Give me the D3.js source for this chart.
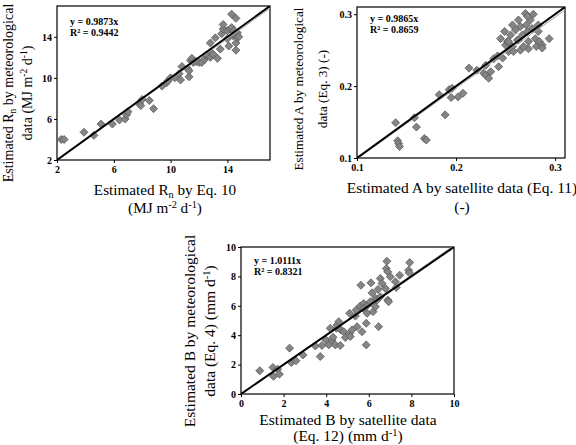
<!DOCTYPE html>
<html>
<head>
<meta charset="utf-8">
<script src="https://cdn.jsdelivr.net/npm/d3@7"></script>
<style>
  html, body { margin: 0; padding: 0; background: #fff; }
  svg { display: block; }
  text { font-family: "Liberation Serif", "Times New Roman", serif; }
</style>
</head>
<body>
<svg id="chart" width="576" height="445"></svg>
<script>
// ---------- Data ----------
// Panel 1: Rn (MJ m-2 d-1): [Eq.10, meteorological]
const rnPoints = [
  [2.3,4.0],[2.5,4.0],[3.9,4.7],[4.6,4.4],[5.1,5.5],[5.9,5.5],[6.4,5.9],[6.8,6.0],[6.9,6.4],[7.0,6.7],
  [7.8,7.5],[7.9,7.3],[8.0,7.9],[8.5,7.8],[8.8,7.0],[9.4,9.2],[9.7,9.5],[9.8,9.7],[10.0,10.0],[10.3,10.0],
  [10.6,10.4],[10.7,9.8],[10.8,11.1],[11.2,10.9],[11.3,10.1],[11.3,10.7],[11.4,11.7],[11.5,11.9],[11.6,11.5],[11.8,11.6],
  [12.0,11.5],[12.2,11.5],[12.4,11.8],[12.5,12.2],[12.6,12.2],[12.8,12.0],[12.9,12.4],[13.0,12.3],[13.3,11.9],[12.8,13.4],
  [13.15,13.9],[13.5,12.8],[13.6,14.3],[13.7,14.75],[13.7,15.2],[14.0,14.6],[14.0,13.8],[14.1,13.1],[14.2,14.75],[14.3,14.9],
  [14.3,16.2],[14.6,15.8],[14.4,14.1],[14.45,14.6],[14.5,14.2],[14.6,13.4],[14.6,12.7],[14.7,13.9],[14.7,14.4],[14.8,14.0]
];
// Panel 2: A (-): [satellite Eq.11, meteorological Eq.3]
const aPoints = [
  [0.139,0.149],[0.141,0.124],[0.142,0.120],[0.143,0.116],[0.158,0.156],[0.160,0.143],[0.168,0.127],[0.170,0.125],
  [0.183,0.188],[0.189,0.160],[0.193,0.195],[0.196,0.197],[0.195,0.184],[0.202,0.185],[0.207,0.190],[0.213,0.225],
  [0.221,0.222],[0.228,0.218],[0.230,0.215],[0.233,0.211],[0.235,0.220],[0.230,0.229],[0.238,0.238],[0.242,0.242],
  [0.243,0.227],[0.247,0.239],[0.245,0.266],[0.250,0.257],[0.249,0.276],[0.252,0.262],[0.253,0.248],[0.255,0.271],
  [0.257,0.255],[0.258,0.248],[0.260,0.278],[0.262,0.264],[0.263,0.292],[0.265,0.283],[0.267,0.271],[0.265,0.250],
  [0.270,0.301],[0.271,0.285],[0.272,0.276],[0.273,0.262],[0.273,0.252],[0.275,0.292],[0.277,0.280],[0.278,0.300],
  [0.280,0.266],[0.281,0.255],[0.283,0.276],[0.284,0.262],[0.287,0.257],[0.287,0.253],[0.294,0.266],[0.268,0.255],
  [0.263,0.264],[0.257,0.285],[0.253,0.262],[0.283,0.285],[0.272,0.297]
];
// Panel 3: B (mm d-1): [satellite Eq.12, meteorological Eq.4]
const bPoints = [
  [0.88,1.58],[1.50,1.81],[1.53,1.20],[1.72,1.69],[1.80,1.35],[2.28,3.12],[2.36,2.14],[2.58,2.26],[2.91,2.66],[3.49,3.27],
  [3.72,2.55],[3.80,3.30],[3.99,3.68],[4.12,3.34],[4.19,4.47],[4.27,3.68],[4.32,3.86],[4.43,3.34],[4.48,4.47],[4.51,4.70],
  [4.59,4.92],[4.66,3.30],[4.69,4.36],[4.82,4.24],[4.90,3.84],[5.10,4.13],[5.13,3.91],[5.10,5.49],[5.21,4.36],[5.37,5.30],
  [5.41,5.71],[5.45,4.58],[5.63,7.40],[5.68,4.24],[5.60,5.98],[5.76,6.16],[5.76,5.82],[5.88,4.81],[5.88,3.34],[5.92,5.49],
  [5.95,6.05],[6.07,6.28],[6.10,7.56],[6.15,6.88],[6.20,5.60],[6.31,5.94],[6.32,6.50],[6.38,6.39],[6.43,7.11],[6.46,4.58],
  [6.54,7.86],[6.62,7.52],[6.54,6.61],[6.78,7.18],[6.85,9.03],[6.82,8.53],[6.89,8.31],[6.89,6.39],[6.93,6.28],[7.01,7.97],
  [7.25,7.63],[7.29,7.25],[7.45,8.08],[7.92,8.94],[7.87,8.42],[7.90,8.24]
];

const rnTicks = [2, 6, 10, 14];
const aTicks = [0.1, 0.2, 0.3];
const bTicks = [0, 2, 4, 6, 8, 10];

const rnDomain = [2, 17];
const aDomain = [0.1, 0.31];
const bDomain = [0, 10];

const rnFit = {slope: 0.9873, label: "y = 0.9873x", r2: "R² = 0.9442"};
const aFit = {slope: 0.9865, label: "y = 0.9865x", r2: "R² = 0.8659"};
const bFit = {slope: 1.0111, label: "y = 1.0111x", r2: "R² = 0.8321"};

// ---------- Drawing ----------
const svg = d3.select("#chart");

function richText(sel, parts, size) {
  let shift = 0;
  parts.forEach(p => {
    const t = sel.append("tspan").text(p.t);
    let target = 0;
    if (p.sub) { target = 3; t.attr("font-size", size * 0.68); }
    if (p.sup) { target = -5; t.attr("font-size", size * 0.68); }
    if (target !== shift) t.attr("dy", target - shift);
    shift = target;
  });
}

function panel(cfg) {
  const g = svg.append("g");
  const x = d3.scaleLinear().domain(cfg.domain).range([cfg.x0, cfg.x1]);
  const y = d3.scaleLinear().domain(cfg.domain).range([cfg.y1, cfg.y0]);

  const fmt = cfg.fmt;
  g.append("g").attr("transform", `translate(0,${cfg.y1})`)
    .call(d3.axisBottom(x).tickValues(cfg.ticks).tickSize(3).tickPadding(3).tickFormat(fmt))
    .call(a => a.select(".domain").remove())
    .call(a => a.selectAll("text").attr("font-family", "Liberation Serif").attr("font-weight", "bold").attr("font-size", 10).attr("fill", "#000"));
  g.append("g").attr("transform", `translate(${cfg.x0},0)`)
    .call(d3.axisLeft(y).tickValues(cfg.ticks).tickSize(3).tickPadding(2).tickFormat(fmt))
    .call(a => a.select(".domain").remove())
    .call(a => a.selectAll("text").attr("font-family", "Liberation Serif").attr("font-weight", "bold").attr("font-size", 10).attr("fill", "#000"));

  // frame
  g.append("rect").attr("x", cfg.x0).attr("y", cfg.y0)
    .attr("width", cfg.x1 - cfg.x0).attr("height", cfg.y1 - cfg.y0)
    .attr("fill", "none").attr("stroke", "#000").attr("stroke-width", 1.2);

  const clipId = "clip" + cfg.id;
  g.append("clipPath").attr("id", clipId).append("rect")
    .attr("x", cfg.x0).attr("y", cfg.y0).attr("width", cfg.x1 - cfg.x0).attr("height", cfg.y1 - cfg.y0);
  const inner = g.append("g").attr("clip-path", `url(#${clipId})`);

  const d0 = cfg.domain[0], d1 = cfg.domain[1];
  // points
  const sz = 4;
  inner.selectAll("path.pt").data(cfg.points).join("path")
    .attr("class", "pt")
    .attr("d", d => {
      const cx = x(d[0]), cy = y(d[1]);
      return `M${cx},${cy - sz}L${cx + sz},${cy}L${cx},${cy + sz}L${cx - sz},${cy}Z`;
    })
    .attr("fill", "#858585").attr("stroke", "#5a5a5a").attr("stroke-width", 0.8);

  // trend line (thin gray) and 1:1 line (black)
  inner.append("line")
    .attr("x1", x(d0)).attr("y1", y(d0 * cfg.fit.slope))
    .attr("x2", x(d1)).attr("y2", y(d1 * cfg.fit.slope))
    .attr("stroke", "#a0a0a0").attr("stroke-width", 1);
  inner.append("line")
    .attr("x1", x(d0)).attr("y1", y(d0)).attr("x2", x(d1)).attr("y2", y(d1))
    .attr("stroke", "#000").attr("stroke-width", 2);

  // equation
  g.append("text").attr("x", cfg.x0 + 13).attr("y", cfg.y0 + cfg.eqDy)
    .attr("font-weight", "bold").attr("font-size", 10).text(cfg.fit.label);
  g.append("text").attr("x", cfg.x0 + 13).attr("y", cfg.y0 + cfg.eqDy + 11)
    .attr("font-weight", "bold").attr("font-size", 10).text(cfg.fit.r2);

  // x title
  cfg.xTitle.forEach((parts, i) => {
    const t = g.append("text").attr("x", cfg.xTitleX).attr("y", cfg.xTitleY + i * cfg.xTitleGap)
      .attr("text-anchor", "middle").attr("font-size", cfg.xfs);
    richText(t, parts, cfg.xfs);
  });
  // y title
  cfg.yTitle.forEach((parts, i) => {
    const t = g.append("text")
      .attr("transform", `translate(${cfg.yTitleX + i * cfg.yTitleGap},${cfg.yTitleY}) rotate(-90)`)
      .attr("text-anchor", "middle").attr("font-size", cfg.yfs);
    richText(t, parts, cfg.yfs);
  });
}

panel({
  id: 1, points: rnPoints, domain: rnDomain, ticks: rnTicks, fmt: d3.format("d"), fit: rnFit,
  x0: 57, x1: 270, y0: 6, y1: 160, eqDy: 19,
  xfs: 15.2, yfs: 14,
  xTitle: [
    [{t: "Estimated R"}, {t: "n", sub: true}, {t: " by Eq. 10"}],
    [{t: "(MJ m"}, {t: "-2", sup: true}, {t: " d"}, {t: "-1", sup: true}, {t: ")"}]
  ],
  xTitleX: 165, xTitleY: 195, xTitleGap: 18,
  yTitle: [
    [{t: "Estimated R"}, {t: "n", sub: true}, {t: " by meteorological"}],
    [{t: "data (MJ m"}, {t: "-2", sup: true}, {t: " d"}, {t: "-1", sup: true}, {t: ")"}]
  ],
  yTitleX: 13, yTitleGap: 19, yTitleY: 93
});

panel({
  id: 2, points: aPoints, domain: aDomain, ticks: aTicks, fmt: d3.format(".1f"), fit: aFit,
  x0: 357, x1: 565, y0: 7, y1: 158, eqDy: 15,
  xfs: 15.5, yfs: 13.2,
  xTitle: [
    [{t: "Estimated A by satellite data (Eq. 11)"}],
    [{t: "(-)"}]
  ],
  xTitleX: 462, xTitleY: 193, xTitleGap: 19,
  yTitle: [
    [{t: "Estimated A by meteorological"}],
    [{t: "data (Eq. 3) (-)"}]
  ],
  yTitleX: 302.5, yTitleGap: 24, yTitleY: 89
});

panel({
  id: 3, points: bPoints, domain: bDomain, ticks: bTicks, fmt: d3.format("d"), fit: bFit,
  x0: 241, x1: 454, y0: 247, y1: 394, eqDy: 17,
  xfs: 15.5, yfs: 15.5,
  xTitle: [
    [{t: "Estimated B by satellite data"}],
    [{t: "(Eq. 12) (mm d"}, {t: "-1", sup: true}, {t: ")"}]
  ],
  xTitleX: 348, xTitleY: 425, xTitleGap: 16,
  yTitle: [
    [{t: "Estimated B by meteorological"}],
    [{t: "data (Eq. 4) (mm d"}, {t: "-1", sup: true}, {t: ")"}]
  ],
  yTitleX: 195, yTitleGap: 20, yTitleY: 331
});
</script>
</body>
</html>
